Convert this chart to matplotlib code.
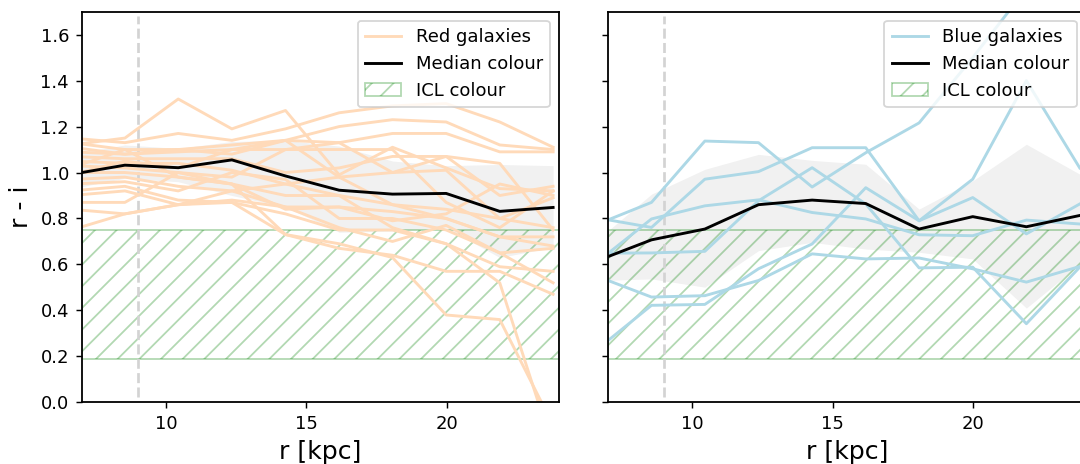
import numpy as np
import matplotlib.pyplot as plt
from matplotlib.patches import Patch
from matplotlib.lines import Line2D

# radial bins [kpc]
r = [6.63, 8.54, 10.44, 12.35, 14.26, 16.17, 18.07, 19.98, 21.89, 23.79]

# r - i colour profiles of the red galaxies
red_profiles = [
    [1.12, 1.15, 1.32, 1.19, 1.27, 0.99, 1.11, 1.02, 0.93, 0.92],
    [1.15, 1.13, 1.17, 1.14, 1.19, 1.26, 1.29, 1.30, 1.22, 1.11],
    [1.13, 1.10, 1.10, 1.12, 1.14, 1.20, 1.23, 1.22, 1.12, 1.10],
    [1.09, 1.08, 1.09, 1.10, 1.10, 1.13, 1.17, 1.17, 1.09, 1.09],
    [1.07, 1.06, 1.06, 1.06, 1.00, 1.02, 1.07, 1.07, 0.90, 0.94],
    [1.05, 1.04, 1.04, 1.01, 0.95, 0.98, 1.00, 1.01, 0.80, 0.89],
    [1.03, 1.02, 1.00, 0.98, 1.10, 1.10, 1.10, 0.87, 0.76, 0.92],
    [1.00, 1.00, 0.98, 0.95, 0.90, 0.90, 0.86, 0.84, 0.80, 0.76],
    [0.97, 0.98, 0.94, 0.92, 0.85, 0.85, 0.83, 0.80, 0.72, 0.72],
    [0.95, 0.96, 0.92, 1.00, 0.97, 0.80, 0.80, 0.75, 0.65, 0.67],
    [0.92, 0.94, 0.88, 0.87, 0.82, 0.75, 0.75, 0.69, 0.59, 0.57],
    [0.90, 0.92, 0.86, 0.87, 0.73, 0.67, 0.64, 0.57, 0.57, 0.47],
    [0.87, 0.87, 1.00, 0.95, 0.73, 0.69, 0.63, 0.38, 0.36, -0.10],
    [0.84, 0.82, 0.86, 0.92, 0.95, 0.90, 0.76, 0.69, 0.52, -0.20],
    [0.75, 0.82, 0.86, 0.88, 0.85, 0.76, 0.70, 0.77, 0.65, 0.52],
    [1.11, 1.08, 1.10, 1.08, 1.14, 1.13, 1.00, 1.07, 1.04, 0.75],
    [0.99, 1.05, 1.02, 1.10, 1.14, 0.98, 0.86, 0.80, 0.72, 0.68],
    [1.02, 1.10, 0.98, 0.95, 0.84, 0.85, 0.79, 0.82, 0.95, 0.90],
]
red_median = [0.992, 1.032, 1.021, 1.055, 0.985, 0.923, 0.906, 0.909, 0.831, 0.848]
red_lo = [0.93, 0.975, 0.96, 0.90, 0.85, 0.74, 0.745, 0.76, 0.63, 0.675]
red_hi = [1.08, 1.12, 1.105, 1.135, 1.14, 1.115, 1.05, 1.03, 1.035, 1.03]

# r - i colour profiles of the blue galaxies
blue_profiles = [
    [0.776, 0.870, 1.137, 1.130, 0.937, 1.086, 1.216, 1.50, 1.80, 2.00],
    [0.613, 0.798, 0.855, 0.881, 0.826, 0.798, 0.729, 0.725, 0.793, 0.776],
    [0.233, 0.422, 0.426, 0.581, 0.689, 0.934, 0.790, 0.891, 0.733, 0.863],
    [0.802, 0.761, 0.971, 1.004, 1.108, 1.108, 0.790, 0.971, 1.400, 1.020],
    [0.547, 0.458, 0.464, 0.530, 0.646, 0.624, 0.628, 0.581, 0.523, 0.591],
    [0.649, 0.650, 0.657, 0.877, 1.021, 0.863, 0.585, 0.588, 0.342, 0.588],
]
blue_median = [0.617, 0.707, 0.754, 0.860, 0.880, 0.865, 0.754, 0.808, 0.764, 0.813]
blue_lo = [0.53, 0.537, 0.501, 0.660, 0.696, 0.667, 0.653, 0.624, 0.41, 0.60]
blue_hi = [0.709, 0.906, 1.014, 1.079, 1.053, 1.036, 0.841, 0.964, 1.123, 0.993]

# ICL colour range and inner cut
icl_lo, icl_hi = 0.19, 0.75
r_cut = 9.0


def panel(ax, profiles, median, lo, hi, col, name):
    ax.fill_between(r, lo, hi, color='0.5', alpha=0.11, lw=0)
    ax.axhspan(icl_lo, icl_hi, fill=False, hatch='//', edgecolor='g',
               alpha=0.3, lw=1.0)
    ax.vlines(r_cut, 0.025, 1.68, colors='lightgrey', linestyles='--', lw=1.5)
    for p in profiles:
        ax.plot(r, p, color=col, lw=1.6)
    ax.plot(r, median, color='k', lw=1.6)

    handles = [Line2D([], [], color=col, lw=1.6),
               Line2D([], [], color='k', lw=1.6),
               Patch(fill=False, hatch='//', edgecolor='g', alpha=0.3)]
    ax.legend(handles, [name, 'Median colour', 'ICL colour'],
              loc='upper right')
    ax.set_xlim(7, 24)
    ax.set_ylim(0, 1.7)
    ax.set_xticks([10, 15, 20])
    ax.set_yticks(np.arange(0, 1.61, 0.2))
    ax.set_xlabel('r [kpc]', fontsize=14)
    for s in ax.spines.values():
        s.set_linewidth(1.0)


fig = plt.figure(figsize=(1080 / 130, 464 / 130), dpi=130)
ax1 = fig.add_axes([0.0756, 0.1330, 0.4420, 0.8418])
ax2 = fig.add_axes([0.5632, 0.1330, 0.4420, 0.8418])

panel(ax1, red_profiles, red_median, red_lo, red_hi, 'peachpuff', 'Red galaxies')
panel(ax2, blue_profiles, blue_median, blue_lo, blue_hi, 'lightblue', 'Blue galaxies')

ax1.set_ylabel('r - i', fontsize=14)
ax2.set_yticklabels([])

fig.savefig('out.png', dpi=130)
